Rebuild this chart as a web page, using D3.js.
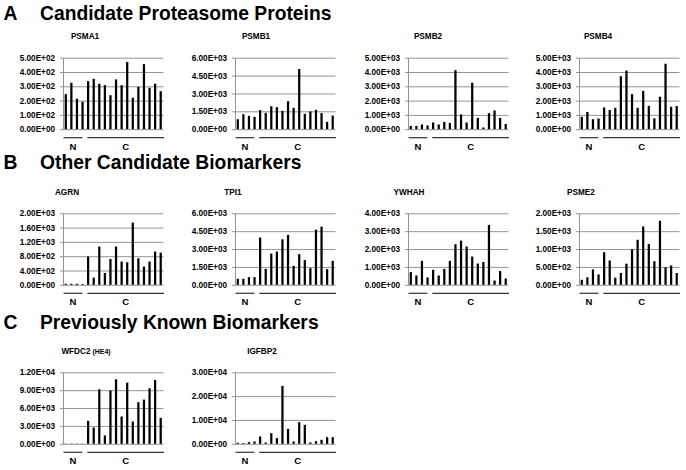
<!DOCTYPE html>
<html><head><meta charset="utf-8">
<script src="https://cdn.jsdelivr.net/npm/d3@7"></script>
<style>
body{margin:0;background:#fff}
text{font-family:"Liberation Sans",Arial,Helvetica,sans-serif}
</style>
</head><body>
<svg id="chart" width="686" height="470"></svg>
<script>
// ---------------- data ----------------
const groups = ["N","N","N","N","C","C","C","C","C","C","C","C","C","C","C","C","C","C"];
const sectionLetters = ["A","B","C"];
const sectionTitles = ["Candidate Proteasome Proteins","Other Candidate Biomarkers","Previously Known Biomarkers"];
const proteinNames = ["PSMA1","PSMB1","PSMB2","PSMB4","AGRN","TPI1","YWHAH","PSME2","WFDC2","IGFBP2"];
const proteinNotes = ["","","","","","","","","(HE4)",""];

const PSMA1  = [245, 325, 213, 192, 336, 352, 318, 308, 238, 348, 308, 470, 220, 297, 455, 290, 318, 266];
const PSMB1  = [840, 1260, 1120, 1040, 1600, 1370, 1930, 1850, 1540, 2350, 1790, 5050, 1290, 1490, 1630, 1350, 620, 1150];
const PSMB2  = [230, 230, 330, 260, 470, 330, 510, 440, 4130, 1030, 470, 3250, 790, 120, 1120, 1310, 790, 370];
const PSMB4  = [870, 1200, 700, 750, 1520, 1340, 1500, 3700, 4100, 2450, 1500, 2680, 1630, 760, 2270, 4580, 1570, 1620];
const AGRN   = [30, 30, 30, 20, 790, 200, 1070, 330, 720, 1070, 650, 630, 1740, 740, 510, 650, 930, 900];
const TPI1   = [500, 500, 640, 640, 3960, 1340, 2620, 2790, 3820, 4190, 1590, 2570, 2070, 1400, 4630, 4880, 1310, 2010];
const YWHAH  = [710, 520, 1340, 410, 840, 520, 890, 1340, 2270, 2470, 2140, 1580, 1190, 1280, 3350, 240, 770, 350];
const PSME2  = [140, 210, 430, 290, 910, 680, 200, 330, 590, 990, 1260, 1630, 1140, 660, 1790, 490, 540, 330];
const WFDC2  = [40, 40, 40, 40, 3850, 2740, 9150, 1400, 8930, 10830, 4580, 10270, 3740, 6980, 7420, 9320, 10720, 4350];
const IGFBP2 = [420, 280, 700, 980, 3070, 560, 4470, 2370, 24300, 6280, 980, 9070, 7950, 560, 1120, 1670, 2790, 2790];

const yMax  = [500, 6000, 5000, 5000, 2000, 6000, 4000, 2000, 12000, 30000];
const yStep = [100, 1500, 1000, 1000, 400, 1500, 1000, 500, 3000, 10000];

const seriesList = [PSMA1, PSMB1, PSMB2, PSMB4, AGRN, TPI1, YWHAH, PSME2, WFDC2, IGFBP2];
const panelRow = [0,0,0,0,1,1,1,1,2,2];
const panelCol = [0,1,2,3,0,1,2,3,0,1];

// ---------------- layout ----------------
const colX0 = [63, 235, 408, 579];
const plotW = 100.5;
const rowTop = [57.7, 213.3, 372.3];
const plotH = 71.5;
const headingBaseline = [19.5, 169, 329];
const titleBaseline = [39, 195, 354];
const titleCenter = [[85, 256, 428, 598],[67, 233, 409, 581],[86, 262]];
const tickFont = 8.2, titleFont = 8.2, groupFont = 9.5, headingFont = 19.3;

function sci(v){
  if (v === 0) return "0.00E+00";
  const e = Math.floor(Math.log10(v) + 1e-9);
  const m = v / Math.pow(10, e);
  return m.toFixed(2) + "E+" + String(e).padStart(2, "0");
}

const svg = d3.select("#chart");
svg.append("rect").attr("width",686).attr("height",470).attr("fill","#fff");

sectionLetters.forEach((L,i)=>{
  svg.append("text").attr("x",3.5).attr("y",headingBaseline[i])
    .attr("font-size",headingFont).attr("font-weight","bold").attr("fill","#000").text(L);
  svg.append("text").attr("x",40).attr("y",headingBaseline[i])
    .attr("font-size",headingFont).attr("font-weight","bold").attr("fill","#000").text(sectionTitles[i]);
});

const samples = d3.range(groups.length);

seriesList.forEach((vals, p)=>{
  const r = panelRow[p], c = panelCol[p];
  const x0 = colX0[c], x1 = x0 + plotW;
  const top = rowTop[r], base = top + plotH;
  const g = svg.append("g");

  const x = d3.scaleBand().domain(samples).range([x0, x1]).paddingInner(0.6).paddingOuter(0.3);
  const y = d3.scaleLinear().domain([0, yMax[p]]).range([base, top]);
  const ticks = d3.range(0, yMax[p] + yStep[p]/2, yStep[p]);

  g.append("g").attr("transform",`translate(${x0},0)`)
    .call(d3.axisLeft(y).tickValues(ticks).tickSize(-(x1-x0)).tickFormat(""))
    .call(s=>{ s.select(".domain").remove();
      s.selectAll("line").attr("stroke","#949494").attr("stroke-width",1); });

  g.append("g").attr("transform",`translate(${x0},0)`)
    .call(d3.axisLeft(y).tickValues(ticks).tickFormat(sci).tickSize(3).tickSizeOuter(0).tickPadding(5))
    .call(s=>{
      s.select(".domain").attr("stroke","#949494");
      s.selectAll(".tick line").attr("stroke","#949494");
      s.selectAll("text").attr("font-size",tickFont).attr("font-weight","bold").attr("fill","#000")
        .attr("font-family",'"Liberation Sans",Arial,sans-serif');
    });

  g.selectAll("rect.bar").data(vals).enter().append("rect").attr("class","bar")
    .attr("x",(d,i)=>x(i)).attr("width",x.bandwidth())
    .attr("y",d=>y(d)).attr("height",d=>base - y(d)).attr("fill","#000");

  const nIdx = samples.filter(i=>groups[i]==="N");
  const cIdx = samples.filter(i=>groups[i]==="C");
  const step = x.step();
  const nStart = x0 + 0.5, nEnd = x(nIdx[nIdx.length-1]) + x.bandwidth() + step*0.3 - 3;
  const cStart = x(cIdx[0]) - step*0.3 + 2, cEnd = x1 + 0.5;
  const ly = base + 8.5;
  g.append("line").attr("x1",nStart).attr("x2",nEnd).attr("y1",ly).attr("y2",ly)
    .attr("stroke","#333").attr("stroke-width",1.2);
  g.append("line").attr("x1",cStart).attr("x2",cEnd).attr("y1",ly).attr("y2",ly)
    .attr("stroke","#333").attr("stroke-width",1.2);
  g.append("text").attr("x",(nStart+nEnd)/2).attr("y",base+20.5).attr("text-anchor","middle")
    .attr("font-size",groupFont).attr("font-weight","bold").text("N");
  g.append("text").attr("x",(cStart+cEnd)/2).attr("y",base+20.5).attr("text-anchor","middle")
    .attr("font-size",groupFont).attr("font-weight","bold").text("C");

  const t = g.append("text").attr("x",titleCenter[r][c]).attr("y",titleBaseline[r])
    .attr("text-anchor","middle").attr("font-size",titleFont).attr("font-weight","bold").attr("fill","#000");
  t.append("tspan").text(proteinNames[p]);
  if (proteinNotes[p]) t.append("tspan").attr("font-size",titleFont*0.85).text(" " + proteinNotes[p]);
});
</script>
</body></html>
